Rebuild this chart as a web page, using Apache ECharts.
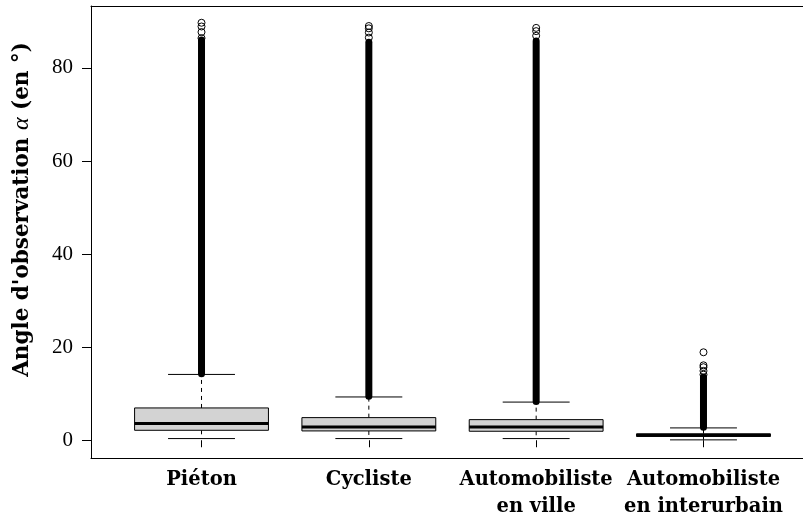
<!DOCTYPE html>
<html>
<head>
<meta charset="utf-8">
<script src="https://cdn.jsdelivr.net/npm/echarts@6/dist/echarts.min.js"></script>
<style>
  html, body { margin: 0; padding: 0; background: #fff; }
  #chart { width: 803px; height: 520px; }
</style>
</head>
<body>
<div id="chart"></div>
<script>
// Observation angle by road-user type (boxplot summary, degrees)
const categories = ['Piéton', 'Cycliste', 'Automobiliste\nen ville', 'Automobiliste\nen interurbain'];
const whiskerLow = [0.36, 0.36, 0.36, 0.08];
const q1 = [2.14, 2.0, 1.93, 0.82];
const medians = [3.58, 2.87, 2.87, 1.07];
const q3 = [6.94, 4.86, 4.43, 1.38];
const whiskerHigh = [14.14, 9.3, 8.2, 2.65];
// Outliers: a dense run of overlapping points, then a few isolated ones on top
const denseOutlierLow = [14.3, 9.45, 8.35, 2.8];
const denseOutlierHigh = [86.0, 85.5, 85.8, 13.6];
const sparseOutliers = [
  [86.4, 87.7, 88.9, 89.7],
  [86.5, 87.6, 88.5, 89.0],
  [86.9, 87.9, 88.6],
  [14.1, 14.9, 15.7, 16.1, 18.9]
];
const yTicks = [0, 20, 40, 60, 80];

const boxData = categories.map((_, i) => [i, whiskerLow[i], q1[i], medians[i], q3[i], whiskerHigh[i]]);
const denseData = categories.map((_, i) => [i, denseOutlierLow[i], denseOutlierHigh[i]]);
const pointData = [];
sparseOutliers.forEach((vals, i) => vals.forEach(v => pointData.push([i, v])));

const serif = '"Liberation Serif", "DejaVu Serif", serif';
const boldSerif = '"DejaVu Serif", serif';

function renderBox(params, api) {
  const i = api.value(0);
  const band = api.size([1, 0])[0];
  const half = band * 0.4;
  const cap = band * 0.2;
  const pLow = api.coord([i, api.value(1)]);
  const cx = pLow[0];
  const yLow = pLow[1];
  const yQ1 = api.coord([i, api.value(2)])[1];
  const yMed = api.coord([i, api.value(3)])[1];
  const yQ3 = api.coord([i, api.value(4)])[1];
  const yHigh = api.coord([i, api.value(5)])[1];
  const dashed = { stroke: '#000', lineWidth: 1, lineDash: [4, 4] };
  const solid = { stroke: '#000', lineWidth: 1 };
  return {
    type: 'group',
    children: [
      { type: 'line', shape: { x1: cx, y1: yQ3, x2: cx, y2: yHigh }, style: dashed },
      { type: 'line', shape: { x1: cx, y1: yQ1, x2: cx, y2: yLow }, style: dashed },
      { type: 'line', shape: { x1: cx - cap, y1: yHigh, x2: cx + cap, y2: yHigh }, style: solid },
      { type: 'line', shape: { x1: cx - cap, y1: yLow, x2: cx + cap, y2: yLow }, style: solid },
      { type: 'rect', shape: { x: cx - half, y: yQ3, width: 2 * half, height: yQ1 - yQ3 },
        style: { fill: '#d3d3d3', stroke: '#000', lineWidth: 1 } },
      { type: 'line', shape: { x1: cx - half, y1: yMed, x2: cx + half, y2: yMed },
        style: { stroke: '#000', lineWidth: 3 } }
    ]
  };
}

function renderDense(params, api) {
  const i = api.value(0);
  const a = api.coord([i, api.value(1)]);
  const b = api.coord([i, api.value(2)]);
  return {
    type: 'line',
    shape: { x1: a[0], y1: a[1], x2: b[0], y2: b[1] },
    style: { stroke: '#000', lineWidth: 7, lineCap: 'round' }
  };
}

const frameLine = { show: true, lineStyle: { color: '#000', width: 1 } };

const chart = echarts.init(document.getElementById('chart'), null, { renderer: 'canvas' });
chart.setOption({
  animation: false,
  backgroundColor: '#fff',
  grid: [
    { left: 117.85, top: 6, width: 669.3, height: 452.5, show: false },
    { left: 91, top: 6, width: 723, height: 452.5, show: false }
  ],
  xAxis: [
    {
      gridIndex: 0,
      type: 'category',
      data: categories,
      boundaryGap: true,
      axisLine: { show: false },
      axisTick: { show: true, alignWithLabel: true, length: 7, lineStyle: { color: '#000', width: 1 } },
      axisLabel: {
        color: '#000', fontFamily: boldSerif, fontWeight: 'bold', fontSize: 19.5,
        lineHeight: 27, margin: 9, interval: 0
      },
      splitLine: { show: false }
    },
    // plot frame: bottom and top edges
    { gridIndex: 1, type: 'value', position: 'bottom', min: 0, max: 1,
      axisLine: frameLine, axisTick: { show: false }, axisLabel: { show: false }, splitLine: { show: false } },
    { gridIndex: 1, type: 'value', position: 'top', min: 0, max: 1,
      axisLine: frameLine, axisTick: { show: false }, axisLabel: { show: false }, splitLine: { show: false } }
  ],
  yAxis: [
    {
      gridIndex: 0,
      type: 'value',
      min: -3.6,
      max: 93.3,
      offset: 26.85,
      axisLine: { show: false },
      axisTick: { show: true, length: 9, customValues: yTicks, lineStyle: { color: '#000', width: 1 } },
      axisLabel: { color: '#000', fontFamily: serif, fontSize: 21, margin: 18, customValues: yTicks },
      splitLine: { show: false },
      name: "Angle d'observation {a|α} (en °)",
      nameLocation: 'middle',
      nameRotate: 90,
      nameGap: 57,
      nameTextStyle: {
        color: '#000', fontFamily: boldSerif, fontWeight: 'bold', fontSize: 21.5,
        padding: [0, 0, 0, 44],
        rich: { a: { fontFamily: serif, fontStyle: 'italic', fontWeight: 'normal', fontSize: 24, color: '#000' } }
      }
    },
    // plot frame: left edge
    { gridIndex: 1, type: 'value', position: 'left', min: 0, max: 1,
      axisLine: frameLine, axisTick: { show: false }, axisLabel: { show: false }, splitLine: { show: false } }
  ],
  series: [
    {
      type: 'custom',
      xAxisIndex: 0, yAxisIndex: 0,
      data: boxData,
      encode: { x: 0, y: [1, 2, 3, 4, 5] },
      renderItem: renderBox,
      z: 2
    },
    {
      type: 'custom',
      xAxisIndex: 0, yAxisIndex: 0,
      data: denseData,
      encode: { x: 0, y: [1, 2] },
      renderItem: renderDense,
      z: 3
    },
    {
      type: 'scatter',
      xAxisIndex: 0, yAxisIndex: 0,
      data: pointData,
      symbol: 'circle',
      symbolSize: 7,
      itemStyle: { color: 'rgba(0,0,0,0)', borderColor: '#000', borderWidth: 1, opacity: 1 },
      z: 4
    }
  ]
});
</script>
</body>
</html>
